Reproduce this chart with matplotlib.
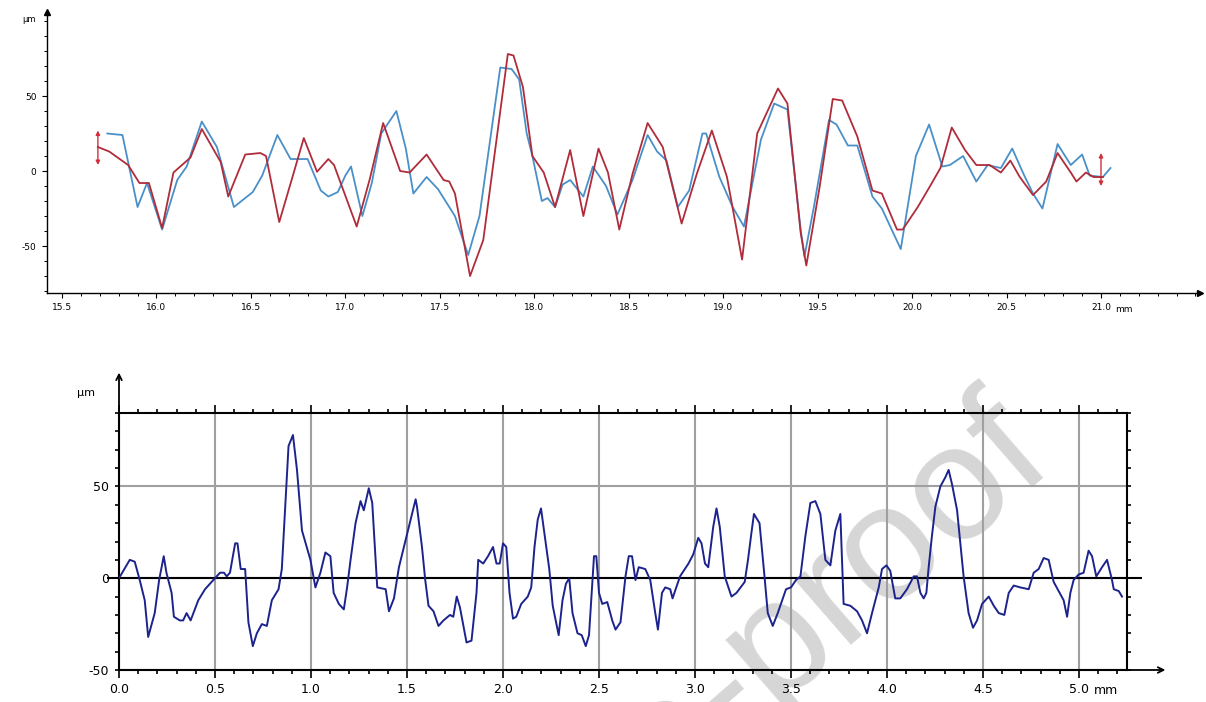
#!/usr/bin/env python3
"""
Two roughness profiles: a pair of overlaid traces (top) and a single
measured profile with grid (bottom).
"""

import matplotlib
matplotlib.use('Agg')
import matplotlib.pyplot as plt
from matplotlib.ticker import MultipleLocator, FixedLocator, FixedFormatter

# ---- top panel: two overlaid profiles (x in mm, height in um) ----
blue_x = [15.74, 15.82, 15.90, 15.95, 16.03, 16.11, 16.16, 16.24, 16.32, 16.41,
          16.47, 16.51, 16.56, 16.64, 16.71, 16.80, 16.87, 16.91, 16.96, 17.00,
          17.03, 17.09, 17.14, 17.19, 17.27, 17.32, 17.36, 17.43, 17.49, 17.58,
          17.65, 17.71, 17.82, 17.88, 17.92, 17.96, 17.99, 18.04, 18.07, 18.11,
          18.15, 18.19, 18.26, 18.31, 18.38, 18.44, 18.52, 18.60, 18.65, 18.70,
          18.76, 18.82, 18.89, 18.91, 18.98, 19.05, 19.11, 19.20, 19.27, 19.34,
          19.41, 19.43, 19.48, 19.56, 19.60, 19.66, 19.71, 19.79, 19.84, 19.94,
          20.02, 20.09, 20.16, 20.20, 20.27, 20.34, 20.40, 20.47, 20.53, 20.59,
          20.64, 20.69, 20.77, 20.84, 20.90, 20.94, 21.01, 21.05]
blue_y = [25, 24, -24, -8, -39, -6, 3, 33, 16, -24,
          -18, -14, -3, 24, 8, 8, -13, -17, -14, -3,
          3, -30, -8, 25, 40, 15, -15, -4, -12, -30,
          -56, -30, 69, 68, 61, 25, 10, -20, -18, -24,
          -9, -6, -17, 3, -10, -29, -6, 24, 13, 7,
          -24, -13, 25, 25, -4, -24, -37, 21, 45, 41,
          -39, -57, -24, 34, 31, 17, 17, -17, -25, -52,
          10, 31, 3, 4, 10, -7, 4, 2, 15, -2,
          -15, -25, 18, 4, 11, -3, -4, 2]

red_x = [15.69, 15.75, 15.85, 15.91, 15.96, 16.03, 16.09, 16.18, 16.24, 16.34,
         16.38, 16.47, 16.55, 16.58, 16.65, 16.72, 16.78, 16.85, 16.91, 16.94,
         17.06, 17.13, 17.20, 17.29, 17.34, 17.43, 17.52, 17.55, 17.58, 17.66,
         17.73, 17.86, 17.89, 17.94, 17.99, 18.05, 18.11, 18.19, 18.26, 18.34,
         18.39, 18.45, 18.52, 18.60, 18.68, 18.78, 18.86, 18.94, 19.02, 19.10,
         19.18, 19.29, 19.34, 19.41, 19.44, 19.51, 19.58, 19.63, 19.71, 19.79,
         19.84, 19.92, 19.95, 20.03, 20.10, 20.15, 20.21, 20.28, 20.34, 20.41,
         20.47, 20.52, 20.57, 20.64, 20.71, 20.77, 20.84, 20.87, 20.92, 20.96,
         21.01]
red_y = [16, 13, 4, -8, -8, -38, -1, 9, 28, 6,
         -17, 11, 12, 10, -34, -4, 22, -0.5, 8, 4,
         -37, -5, 32, 0, -1, 11, -6, -7, -15, -70,
         -46, 78, 77, 56, 10, -1, -24, 14, -30, 15,
         -1, -39, -2, 32, 16, -35, -2, 27, -4, -59,
         25, 55, 45, -41, -63, -11, 48, 47, 23, -13,
         -15, -39, -39, -24, -9, 2, 29, 14, 4, 4,
         -1, 7, -4, -16, -7, 12, -1, -7, -1, -4,
         -4]

# red double arrows marking the ends of the compared section
mark_x = [15.69, 21.0]
mark_lo = [4, -10]
mark_hi = [27, 12]

top_ticks = [15.5, 16.0, 16.5, 17.0, 17.5, 18.0, 18.5, 19.0, 19.5, 20.0, 20.5, 21.0]
top_labels = ['15.5', '16.0', '16.5', '17.0', '17.5', '18.0', '18.5', '19.0',
              '19.5', '20.0', '20.5', '21.0']

# ---- bottom panel: single profile ----
prof_x = [0.0, 0.056, 0.082, 0.108, 0.134, 0.152, 0.186, 0.209, 0.233, 0.247,
          0.274, 0.286, 0.317, 0.334, 0.352, 0.373, 0.413, 0.448, 0.5, 0.526,
          0.547, 0.561, 0.578, 0.605, 0.617, 0.634, 0.657, 0.674, 0.697, 0.718,
          0.744, 0.77, 0.796, 0.831, 0.848, 0.866, 0.883, 0.906, 0.927, 0.953,
          0.997, 1.023, 1.049, 1.075, 1.101, 1.118, 1.145, 1.171, 1.188, 1.206,
          1.232, 1.258, 1.275, 1.301, 1.319, 1.345, 1.389, 1.406, 1.432, 1.458,
          1.484, 1.545, 1.552, 1.578, 1.595, 1.612, 1.638, 1.664, 1.690, 1.724,
          1.741, 1.759, 1.776, 1.810, 1.836, 1.862, 1.871, 1.897, 1.922, 1.948,
          1.966, 1.983, 2.0, 2.017, 2.034, 2.052, 2.069, 2.095, 2.112, 2.129,
          2.147, 2.164, 2.181, 2.198, 2.216, 2.241, 2.259, 2.290, 2.310, 2.328,
          2.345, 2.362, 2.388, 2.410, 2.431, 2.448, 2.462, 2.474, 2.486, 2.5,
          2.517, 2.543, 2.569, 2.586, 2.612, 2.638, 2.655, 2.672, 2.690, 2.707,
          2.741, 2.767, 2.793, 2.807, 2.828, 2.845, 2.871, 2.883, 2.922, 2.966,
          2.991, 3.017, 3.034, 3.052, 3.069, 3.095, 3.112, 3.129, 3.155, 3.190,
          3.216, 3.259, 3.276, 3.293, 3.307, 3.336, 3.362, 3.379, 3.405, 3.431,
          3.474, 3.5, 3.526, 3.549, 3.575, 3.601, 3.627, 3.653, 3.679, 3.705,
          3.731, 3.757, 3.774, 3.809, 3.844, 3.870, 3.896, 3.922, 3.957, 3.974,
          3.997, 4.017, 4.043, 4.069, 4.104, 4.139, 4.156, 4.174, 4.191, 4.205,
          4.217, 4.234, 4.252, 4.278, 4.304, 4.321, 4.339, 4.365, 4.382, 4.399,
          4.425, 4.448, 4.469, 4.495, 4.530, 4.556, 4.582, 4.611, 4.634, 4.660,
          4.694, 4.738, 4.764, 4.790, 4.816, 4.842, 4.868, 4.894, 4.920, 4.938,
          4.955, 4.972, 4.998, 5.024, 5.050, 5.068, 5.090, 5.120, 5.146, 5.172,
          5.181, 5.207, 5.224]
prof_y = [0, 10, 9, -1, -12, -32, -19, -1, 12, 3,
          -8, -21, -23, -23, -19, -23, -12, -6, 0, 3,
          3, 1, 3, 19, 19, 5, 5, -24, -37, -30,
          -25, -26, -12, -6, 5, 39, 72, 78, 59, 26,
          10, -5, 3, 14, 12, -8, -14, -17, -5, 10,
          30, 42, 37, 49, 41, -5, -6, -18, -11, 6,
          17, 43, 39, 17, -1, -15, -18, -26, -23, -20,
          -21, -10, -16, -35, -34, -8, 10, 8, 12, 17,
          8, 8, 19, 17, -8, -22, -21, -14, -12, -10,
          -5, 17, 32, 38, 24, 5, -15, -31, -12, -3,
          0, -19, -30, -31, -37, -31, -8, 12, 12, -8,
          -14, -13, -23, -28, -24, 1, 12, 12, -1, 6,
          5, -1, -19, -28, -8, -5, -6, -11, 1, 8,
          13, 22, 19, 8, 6, 28, 38, 28, 1, -10,
          -8, -2, 10, 24, 35, 30, 1, -19, -26, -19,
          -6, -5, -1, 1, 23, 41, 42, 35, 10, 7,
          26, 35, -14, -15, -18, -23, -30, -19, -5, 5,
          7, 4, -11, -11, -6, 1, 1, -8, -11, -8,
          6, 23, 39, 50, 55, 59, 51, 37, 19, 1,
          -19, -27, -23, -14, -10, -15, -19, -20, -8, -4,
          -5, -6, 3, 5, 11, 10, -2, -7, -12, -21,
          -8, -1, 2, 3, 15, 12, 1, 6, 10, -1,
          -6, -7, -10]

bot_ticks = [0.0, 0.5, 1.0, 1.5, 2.0, 2.5, 3.0, 3.5, 4.0, 4.5, 5.0]
bot_labels = ['0.0', '0.5', '1.0', '1.5', '2.0', '2.5', '3.0', '3.5', '4.0',
              '4.5', '5.0']
y_ticks = [-50, 0, 50]
y_labels = ['-50', '0', '50']

W, H = 1206, 702


def px_box(left, top, right, bottom):
    """Pixel box -> figure fraction rect."""
    return [left / W, 1 - bottom / H, (right - left) / W, (bottom - top) / H]


def draw_top(fig):
    ax = fig.add_axes(px_box(47, 12, 1200, 293))
    ax.set_facecolor('none')
    ax.plot(blue_x, blue_y, color='#4a90c8', lw=1.3, zorder=3)
    ax.plot(red_x, red_y, color='#b02c3a', lw=1.3, zorder=4)

    for x, lo, hi in zip(mark_x, mark_lo, mark_hi):
        ax.annotate('', xy=(x, hi), xytext=(x, lo),
                    arrowprops=dict(arrowstyle='<|-|>', color='#d0303a',
                                    lw=1.0, mutation_scale=6,
                                    shrinkA=0, shrinkB=0))

    ax.set_xlim(15.4206, 21.524)
    ax.set_ylim(-81.3, 106)
    for side in ('top', 'right'):
        ax.spines[side].set_visible(False)
    for side in ('left', 'bottom'):
        ax.spines[side].set_linewidth(1.0)

    ax.xaxis.set_major_locator(FixedLocator(top_ticks))
    ax.xaxis.set_major_formatter(FixedFormatter(top_labels))
    ax.xaxis.set_minor_locator(MultipleLocator(0.1))
    ax.yaxis.set_major_locator(FixedLocator(y_ticks))
    ax.yaxis.set_major_formatter(FixedFormatter(y_labels))
    ax.yaxis.set_minor_locator(MultipleLocator(10))
    ax.tick_params(which='major', direction='out', length=3.5, width=0.8,
                   labelsize=6.5, pad=4)
    ax.tick_params(which='minor', direction='out', length=2, width=0.7)

    # axis arrow heads
    ax.plot(1, 0, '>k', ms=5, transform=ax.transAxes, clip_on=False)
    ax.plot(0, 1, '^k', ms=5, transform=ax.transAxes, clip_on=False)

    ax.annotate('mm', xy=(21.0, -81.3), xytext=(14, -16),
                textcoords='offset pixels', ha='left', va='center',
                fontsize=6.5, annotation_clip=False)
    fig.text(29 / W, 1 - 20 / H, 'µm', fontsize=6, ha='center', va='center')
    return ax


def draw_bottom(fig):
    ax = fig.add_axes(px_box(119, 413, 1127, 670))
    ax.set_facecolor('none')
    ax.plot(prof_x, prof_y, color='#1c238c', lw=1.4, zorder=4)

    ax.set_xlim(0, 5.25)
    ax.set_ylim(-50, 90)
    for side in ax.spines:
        ax.spines[side].set_linewidth(1.5)

    ax.xaxis.set_major_locator(FixedLocator(bot_ticks))
    ax.xaxis.set_major_formatter(FixedFormatter(bot_labels))
    ax.xaxis.set_minor_locator(MultipleLocator(0.1))
    ax.yaxis.set_major_locator(FixedLocator(y_ticks))
    ax.yaxis.set_major_formatter(FixedFormatter(y_labels))
    ax.yaxis.set_minor_locator(MultipleLocator(10))
    ax.tick_params(which='both', direction='out', top=True, right=True,
                   width=1.2, labelsize=9)
    ax.tick_params(which='major', axis='x', length=6, pad=3.5)
    ax.tick_params(which='major', axis='y', length=3, pad=4)
    ax.tick_params(which='minor', length=3)

    ax.grid(True, which='major', color='#a0a0a0', lw=1.5, zorder=1)
    ax.hlines(0, -0.06, 5.33, color='black', lw=1.5, zorder=3, clip_on=False)

    # axis extensions with open arrow heads
    ax.annotate('', xy=(0, 112), xytext=(0, 90),
                arrowprops=dict(arrowstyle='->', color='black', lw=1.3,
                                shrinkA=0, shrinkB=0), annotation_clip=False)
    ax.annotate('', xy=(5.45, -50), xytext=(5.25, -50),
                arrowprops=dict(arrowstyle='->', color='black', lw=1.3,
                                shrinkA=0, shrinkB=0), annotation_clip=False)

    ax.annotate('mm', xy=(5.0, -50), xytext=(15, -21),
                textcoords='offset pixels', ha='left', va='center',
                fontsize=9, annotation_clip=False)
    fig.text(86 / W, 1 - 393 / H, 'µm', fontsize=8, ha='center', va='center')
    return ax


def main():
    fig = plt.figure(figsize=(W / 100, H / 100), dpi=100)
    fig.patch.set_facecolor('white')

    # watermark sits behind both panels, partly off the page like the source
    fig.text(0.876, 0.336, 'Journal Pre-proof', rotation=41, ha='right',
             va='baseline', rotation_mode='anchor', fontsize=118,
             family='Liberation Sans', color='#d6d6d6', zorder=-1)

    draw_top(fig)
    draw_bottom(fig)

    fig.savefig('out.png', dpi=100)


if __name__ == "__main__":
    main()
